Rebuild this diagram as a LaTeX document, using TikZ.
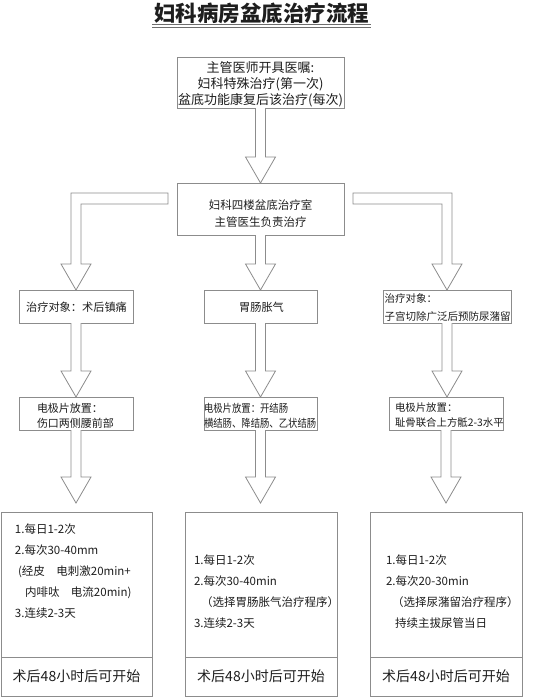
\documentclass[tikz,border=0pt]{standalone}
\usepackage{fontspec}
\setmainfont{Noto Sans CJK SC}
\newfontfamily\cnnarrow[FakeStretch=0.85]{Noto Sans CJK SC}
\usetikzlibrary{calc}
\definecolor{lineg}{HTML}{8C8C8C}
\definecolor{txt}{HTML}{1E1E1E}
\tikzset{
  box/.style={draw=lineg, line width=0.8pt, fill=white, inner sep=0pt, outer sep=0pt},
  barr/.style={draw=lineg, line width=0.8pt, fill=white, line join=miter},
  lbl/.style={text=txt, inner sep=0pt, outer sep=0pt},
}
% straight block arrow from south of #1 to north of #2, tip #3 above target
\newcommand{\vArrow}[3]{%
  \draw[barr] let \p1=(#1.south), \p2=(#2.north) in
    (\x1-5,\y1) -- (\x1-5,\y2+#3+26) -- (\x1-15,\y2+#3+26) -- (\x1,\y2+#3)
    -- (\x1+15,\y2+#3+26) -- (\x1+5,\y2+#3+26) -- (\x1+5,\y1);}
% bent block arrow leaving to the left of #1 and coming down onto #2
\newcommand{\lArrow}[2]{%
  \draw[barr] let \p1=(#1.north west), \p2=(#2.north) in
    (\x1-9,\y1-10) -- (\x2-5,\y1-10) -- (\x2-5,\y2+26) -- (\x2-15,\y2+26) -- (\x2,\y2)
    -- (\x2+15,\y2+26) -- (\x2+5,\y2+26) -- (\x2+5,\y1-21) -- (\x1-9,\y1-21) -- cycle;}
\newcommand{\rArrow}[2]{%
  \draw[barr] let \p1=(#1.north east), \p2=(#2.north) in
    (\x1+9,\y1-10) -- (\x2+5,\y1-10) -- (\x2+5,\y2+26) -- (\x2+15,\y2+26) -- (\x2,\y2)
    -- (\x2-15,\y2+26) -- (\x2-5,\y2+26) -- (\x2-5,\y1-21) -- (\x1+9,\y1-21) -- cycle;}
\begin{document}
\begin{tikzpicture}[x=1pt,y=-1pt]
\useasboundingbox (0,0) rectangle (554,697);

% title
\node[lbl, font=\fontsize{21.5}{24}\selectfont\bfseries] (title) at (261.5,13) {妇科病房盆底治疗流程};
\draw[draw=txt!65, line width=0.7pt] ($(title.center)+(-109.5,11.5)$) -- ($(title.center)+(109.5,11.5)$);
\draw[draw=txt!65, line width=0.7pt] ($(title.center)+(-109.5,14)$) -- ($(title.center)+(109.5,14)$);

% boxes
\node[box, minimum width=167pt, minimum height=51pt] (b1) at (260.5,82.5) {};
\node[box, minimum width=167pt, minimum height=52pt] (b2) at (260.5,209) {};
\node[box, minimum width=114pt, minimum height=33pt] (r2l) at (76,306.5) {};
\node[box, minimum width=113pt, minimum height=33pt] (r2m) at (260.5,306.5) {};
\node[box, minimum width=128pt, minimum height=33pt] (r2r) at (447,306.5) {};
\node[box, minimum width=114pt, minimum height=33pt] (r3l) at (76,413.5) {};
\node[box, minimum width=113pt, minimum height=33pt] (r3m) at (260.5,413.5) {};
\node[box, minimum width=114pt, minimum height=33pt] (r3r) at (446,413.5) {};
\node[box, minimum width=151pt, minimum height=184pt] (r4l) at (76.5,604) {};
\node[box, minimum width=152pt, minimum height=184pt] (r4m) at (261,604) {};
\node[box, minimum width=152pt, minimum height=184pt] (r4r) at (446,604) {};
\foreach \b in {r4l,r4m,r4r}{
  \draw[box] ([yshift=39pt]\b.south west) -- ([yshift=39pt]\b.south east);
}

% arrows
\vArrow{b1}{b2}{0}
\vArrow{b2}{r2m}{0}
\lArrow{b2}{r2l}
\rArrow{b2}{r2r}
\vArrow{r2l}{r3l}{0}
\vArrow{r2m}{r3m}{0}
\vArrow{r2r}{r3r}{0}
\vArrow{r3l}{r4l}{9}
\vArrow{r3m}{r4m}{9}
\vArrow{r3r}{r4r}{9}

% texts
\node[lbl, align=center, font=\fontsize{13}{16}\selectfont] (t1) at (260.5,84)
  {主管医师开具医嘱:\\妇科特殊治疗(第一次)\\盆底功能康复后该治疗(每次)};
\node[lbl, align=center, font=\fontsize{11.5}{17}\selectfont] (t2) at (260.5,213.5)
  {妇科四楼盆底治疗室\\主管医生负责治疗};
\node[lbl, font=\fontsize{11.2}{14}\selectfont] (t2l) at (76.5,307) {治疗对象：术后镇痛};
\node[lbl, font=\fontsize{11.2}{14}\selectfont] (t2m) at (261.5,307) {胃肠胀气};
\node[lbl, anchor=west, align=left, font=\fontsize{10.5}{18}\selectfont] (t2r) at (384.5,307.5)
  {治疗对象：\\子宫切除广泛后预防尿潴留};
\node[lbl, anchor=west, align=left, font=\fontsize{11}{15}\selectfont] (t3l) at (37,415.5)
  {电极片放置：\\伤口两侧腰前部};
\node[lbl, anchor=west, align=left, font=\cnnarrow\fontsize{11}{15}\selectfont] (t3m) at (204,415.5)
  {电极片放置：开结肠\\横结肠、降结肠、乙状结肠};
\node[lbl, anchor=west, align=left, font=\fontsize{10.4}{15}\selectfont] (t3r) at (395,415.5)
  {电极片放置：\\耻骨联合上方骶2-3水平};

\node[lbl, anchor=west, align=left, font=\fontsize{11.5}{21}\selectfont] (t4l) at (15,571)
  {1.每日1-2次\\2.每次30-40mm\\\hspace*{3pt}(经皮\hspace{1em}电刺激20min+\\\hspace*{10pt}内啡呔\hspace{1em}电流20min)\\3.连续2-3天};
\node[lbl, anchor=west, align=left, font=\fontsize{11.5}{21}\selectfont] (t4m) at (194,591.5)
  {1.每日1-2次\\2.每次30-40min\\\hspace*{7pt}（选择胃肠胀气治疗程序）\\3.连续2-3天};
\node[lbl, anchor=west, align=left, font=\fontsize{11.5}{21}\selectfont] (t4r) at (386,591.5)
  {1.每日1-2次\\2.每次20-30min\\\hspace*{6pt}（选择尿潴留治疗程序）\\\hspace*{9pt}持续主拔尿管当日};

\node[lbl, font=\fontsize{14}{16}\selectfont] (s4l) at ($(r4l.south)+(0,-19.5)$) {术后48小时后可开始};
\node[lbl, font=\fontsize{14}{16}\selectfont] (s4m) at ($(r4m.south)+(0,-19.5)$) {术后48小时后可开始};
\node[lbl, font=\fontsize{14}{16}\selectfont] (s4r) at ($(r4r.south)+(0,-19.5)$) {术后48小时后可开始};
\end{tikzpicture}
\end{document}
